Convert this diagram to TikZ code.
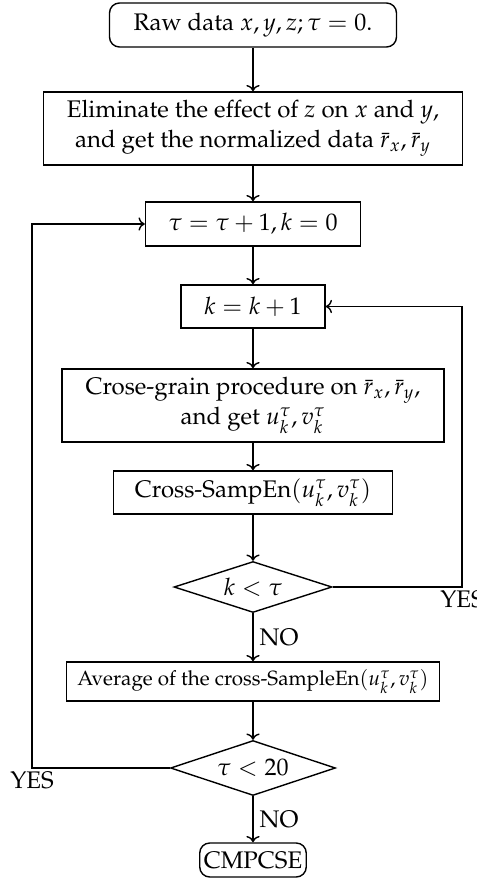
\documentclass[tikz,border=0pt]{standalone}
\usepackage[T1]{fontenc}
\usepackage{amsmath,amssymb}
\usepackage{mathpazo}
\usepackage{tikz}
\usetikzlibrary{arrows.meta, positioning, shapes.geometric}

\begin{document}
\begin{tikzpicture}[x=0.5pt, y=-0.5pt, >=To, line width=0.7pt,
      every node/.style={font=\fontsize{12pt}{15pt}\selectfont},
      box/.style={draw, rectangle, inner sep=2pt, align=center},
      term/.style={draw, rectangle, rounded corners=5pt, inner sep=2pt, align=center},
      dec/.style={draw, diamond, aspect=3.1, inner sep=0pt},
      lbl/.style={inner sep=3pt}]

    \useasboundingbox (0,0) rectangle (477,879);

    \node[term, minimum width=143.5pt, minimum height=22pt] (start) at (253, 25) {Raw data $x, y, z; \tau=0.$};
    \node[box, minimum width=209.5pt, minimum height=36.5pt] (elim) at (253, 128.5)
        {Eliminate the effect of $z$ on $x$ and $y$,\\ and get the normalized data $\bar{r}_x,\bar{r}_y$};
    \node[box, minimum width=107.5pt, minimum height=22pt]  (tau)   at (253, 224) {$\tau=\tau+1,k=0$};
    \node[box, minimum width=72pt, minimum height=21.5pt]   (kinc)  at (253, 306.5) {$k=k+1$};
    \node[box, minimum width=191pt, minimum height=36.5pt]  (grain) at (253, 405.5)
        {Crose-grain procedure on $\bar{r}_x,\bar{r}_y$,\\ and get $u_k^\tau,v_k^\tau$};
    \node[box, minimum width=139.5pt, minimum height=21.5pt] (samp) at (253, 492.5) {Cross-SampEn$(u_k^\tau,v_k^\tau)$};
    \node[dec, minimum width=79pt, minimum height=25.5pt, label=center:{$k<\tau$}] (kdec) at (253, 587) {};
    \node[box, minimum width=186.5pt, minimum height=19.5pt, font=\fontsize{10.3pt}{12pt}\selectfont] (avg) at (253, 681.5)
        {Average of the cross-SampleEn$(u_k^\tau,v_k^\tau)$};
    \node[dec, minimum width=82.5pt, minimum height=27.5pt, label=center:{$\tau<20$}] (tdec) at (253, 768) {};
    \node[term, minimum width=51pt, minimum height=17pt]    (stop)  at (253, 860) {CMPCSE};

    \draw[->] (start) -- (elim);
    \draw[->] (elim)  -- (tau);
    \draw[->] (tau)   -- (kinc);
    \draw[->] (kinc)  -- (grain);
    \draw[->] (grain) -- (samp);
    \draw[->] (samp)  -- (kdec);
    \draw[->] (kdec)  -- node[right, lbl] {NO} (avg);
    \draw[->] (avg)   -- (tdec);
    \draw[->] (tdec)  -- node[right, lbl] {NO} (stop);

    % inner loop back to k = k+1
    \coordinate (kback) at (462, 587);
    \draw[->] (kdec.east) -- (kback) |- (kinc.east);
    \node[lbl, below, inner sep=1.5pt] (kyes) at (kback) {YES};

    % outer loop back to tau = tau+1
    \coordinate (tback) at (32, 768);
    \draw[->] (tdec.west) -- (tback) |- (tau.west);
    \node[lbl, below, inner sep=1.5pt] (tyes) at (tback) {YES};

\end{tikzpicture}
\end{document}
